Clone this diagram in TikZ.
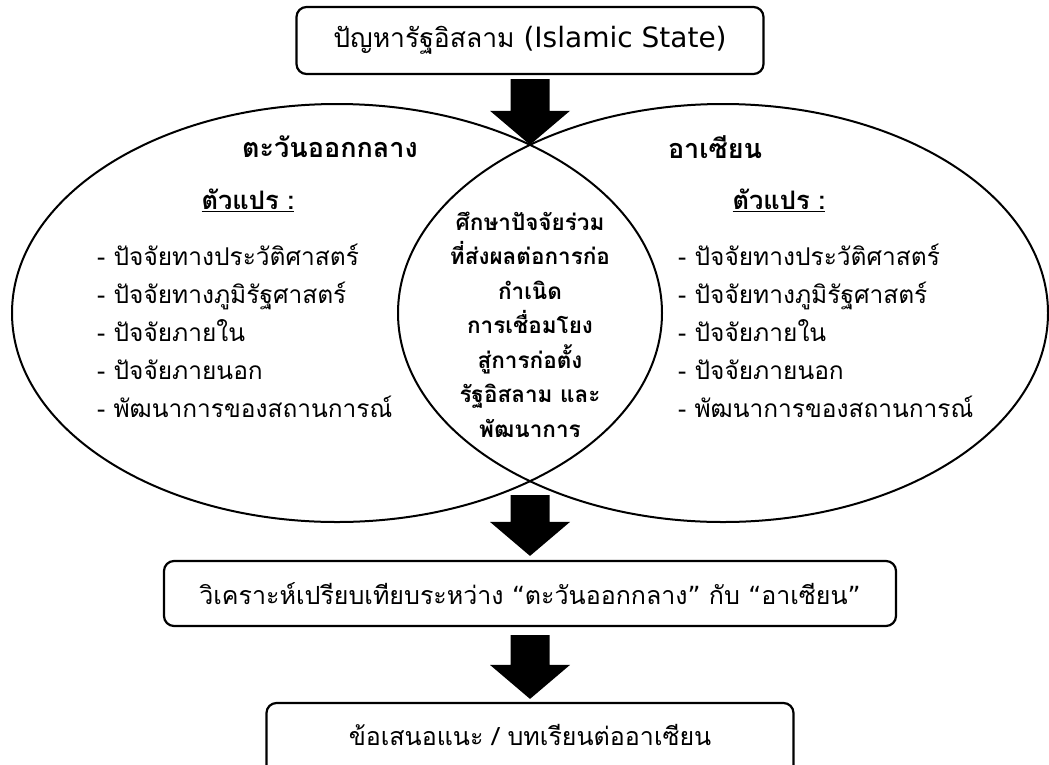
\documentclass[tikz,border=0pt]{standalone}
\usepackage{fontspec}
\setmainfont[Script=Thai]{Loma}
\newfontfamily\latinfont{DejaVu Sans}
\usetikzlibrary{shapes.geometric,calc}
\newcommand\blockarrow[2]{%
  \fill let \p1=(#1), \p2=(#2) in
    (\x1-19.5pt,\y1) -- (\x1+19.5pt,\y1) -- (\x1+19.5pt,\y2+34pt) --
    (\x1+40pt,\y2+34pt) -- (\x1,\y2) -- (\x1-40pt,\y2+34pt) --
    (\x1-19.5pt,\y2+34pt) -- cycle;}
\begin{document}
\begin{tikzpicture}[x=1pt,y=-1pt,
  box/.style={draw, line width=2.2pt, rounded corners=10pt, inner sep=0pt,
    font=\fontsize{25}{29}\selectfont},
  venn/.style={draw, ellipse, line width=2pt, inner sep=0pt,
    minimum width=650pt, minimum height=418pt},
  head/.style={font=\bfseries\fontsize{27}{30}\selectfont, inner sep=0pt},
  varhead/.style={font=\bfseries\fontsize{25.5}{29}\selectfont, inner sep=0pt},
  items/.style={font=\fontsize{24.5}{38}\selectfont, align=left, inner sep=0pt, anchor=west},
  core/.style={font=\bfseries\fontsize{22.5}{34.5}\selectfont, align=center, inner sep=0pt}]
\useasboundingbox (0,0) rectangle (1049,764);
\fill[white] (0,0) rectangle (1049,764);
% boxes
\node[box, minimum width=467pt, minimum height=67pt] (title) at (530,40.5)
  {\raisebox{-2pt}{\fontsize{26.5}{30}\selectfont ปัญหารัฐอิสลาม {\latinfont\fontsize{28}{30}\selectfont (Islamic State)}}};
\node[box, minimum width=732pt, minimum height=65pt] (compare) at (530,593.5)
  {วิเคราะห์เปรียบเทียบระหว่าง {\latinfont “}ตะวันออกกลาง{\latinfont ”} กับ {\latinfont “}อาเซียน{\latinfont ”}};
\node[box, minimum width=527pt, minimum height=76pt] (lesson) at (530,741)
  {\raisebox{12pt}{ข้อเสนอแนะ / บทเรียนต่ออาเซียน}};
% venn
\node[venn] (me) at (337,313) {};
\node[venn] (asean) at (723,313) {};
\coordinate (xtop) at (530,144.8);
\coordinate (xbot) at (530,481.2);
% texts
\node[head] (mehead) at (330,147) {ตะวันออกกลาง};
\node[head] (aseanhead) at (715,147) {อาเซียน};
\node[varhead] (mevar) at (248,200) {\underline{ตัวแปร~:}};
\node[varhead] (aseanvar) at (779,200) {\underline{ตัวแปร~:}};
\node[items] (meitems) at (97,331) {- ปัจจัยทางประวัติศาสตร์\\- ปัจจัยทางภูมิรัฐศาสตร์\\- ปัจจัยภายใน\\- ปัจจัยภายนอก\\- พัฒนาการของสถานการณ์};
\node[items] (aseanitems) at (678,331) {- ปัจจัยทางประวัติศาสตร์\\- ปัจจัยทางภูมิรัฐศาสตร์\\- ปัจจัยภายใน\\- ปัจจัยภายนอก\\- พัฒนาการของสถานการณ์};
\node[core] (common) at (530,324.5) {ศึกษาปัจจัยร่วม\\ที่ส่งผลต่อการก่อ\\กำเนิด\\การเชื่อมโยง\\สู่การก่อตั้ง\\รัฐอิสลาม และ\\พัฒนาการ};
% block arrows
\blockarrow{[yshift=-4pt]title.south}{xtop}
\blockarrow{[yshift=-14pt]xbot}{[yshift=4pt]compare.north}
\blockarrow{[yshift=-8pt]compare.south}{[yshift=3pt]lesson.north}
\end{tikzpicture}
\end{document}
